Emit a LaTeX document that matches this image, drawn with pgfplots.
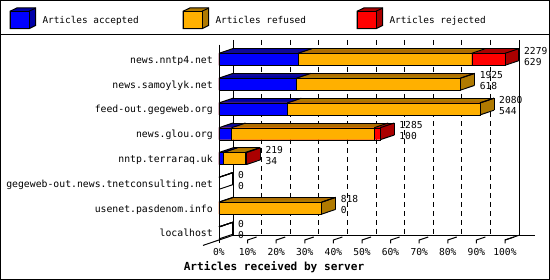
\documentclass[border=0pt]{standalone}
\usepackage{pgfplots}
\pgfplotsset{compat=1.18}
\usepackage{pgfplotstable}
\usepackage{fontspec}
\setmainfont{DejaVu Sans Mono}
\definecolor{cblue}{RGB}{0,0,255}
\definecolor{cblueD}{RGB}{0,0,168}
\definecolor{corange}{RGB}{255,176,0}
\definecolor{corangeD}{RGB}{176,122,0}
\definecolor{cred}{RGB}{255,0,0}
\definecolor{credD}{RGB}{170,0,0}

% counts: c1 = accepted, c2 = accepted+refused, c3 = total (accepted+refused+rejected)
% sideR / sideO: total of rows whose last segment is red / orange
\pgfplotstableread{
y c1 c2 c3 sideR sideO total acc
0 629 2014 2279 2279 0 2279 629
1 618 1925 1925 0 1925 1925 618
2 544 2080 2080 0 2080 2080 544
3 100 1237 1285 1285 0 1285 100
4 34 209 219 219 0 219 34
5 0 0 0 0 0 0 0
6 0 818 818 0 818 818 0
7 0 0 0 0 0 0 0
}\servers

\pgfplotsset{
  facefill/.style={xbar, bar shift=0pt, draw=none, forget plot, restrict x to domain=0.001:1000},
  edge/.style={-, draw=black, line width=1pt, mark=none, forget plot},
}

\begin{document}
\begin{tikzpicture}[line width=1pt, font=\fontsize{9.8}{11}\selectfont]
\useasboundingbox (0,0) rectangle (550pt,280pt);
\draw (0.5pt,0.5pt) rectangle (549.5pt,279.5pt);
\draw (0pt,245.3pt) -- (550pt,245.3pt);

% legend
\foreach \x/\c/\d/\t in {10/cblue/cblueD/Articles accepted, 183/corange/corangeD/Articles refused, 357/cred/credD/Articles rejected}{
  \filldraw[fill=\d, draw=black] (\x pt,251.3pt) -- ++(19pt,0) -- ++(6.7pt,3.3pt) -- ++(0,17.4pt) -- ++(-19pt,0) -- ++(-6.7pt,-3.3pt) -- cycle;
  \filldraw[fill=\c, draw=black] (\x pt,251.3pt) rectangle ++(19pt,17.4pt);
  \draw ({(\x+19)*1pt},268.7pt) -- ++(6.7pt,3.3pt);
  \node[anchor=base west, inner sep=0pt, font=\fontsize{9.4}{11}\selectfont] at ({(\x+32)*1pt},256.7pt) {\t};
}

% back wall grid and floor
\foreach \k in {1,...,9}{
  \draw[dash pattern=on 5pt off 4pt] ({(233+28.6*\k)*1pt},240pt) -- ({(233+28.6*\k)*1pt},44.7pt);
}
\draw (233pt,240pt) -- (233pt,44.7pt);
\draw (519pt,240pt) -- (519pt,44.7pt);
\draw (233pt,44.7pt) -- (535pt,44.7pt);
\draw (203pt,34.6pt) -- (233pt,44.7pt);
\draw (505pt,40pt) -- (519pt,44.7pt);
\draw (219pt,235.3pt) -- (219pt,36.5pt);
\foreach \k in {1,...,10}{
  \draw ({(219+28.6*\k)*1pt},36.5pt) -- ({(219+28.6*\k)*1pt},40pt) -- ({(219+28.6*\k+9)*1pt},43pt);
}

\begin{axis}[
  at={(219pt,40pt)}, anchor=south west,
  scale only axis, width=286pt, height=195.3pt,
  xmin=0, xmax=100, ymin=-0.589, ymax=7.286, y dir=reverse,
  clip=false,
  axis line style={draw=none}, tick style={draw=none},
  xtick={0,10,...,100},
  xticklabels={0\%,10\%,20\%,30\%,40\%,50\%,60\%,70\%,80\%,90\%,100\%},
  xticklabel style={anchor=base, yshift=-15.5pt, inner sep=0pt, font=\fontsize{9.6}{11}\selectfont},
  ytick={0,...,7},
  yticklabels={news.nntp4.net, news.samoylyk.net, feed-out.gegeweb.org, news.glou.org, nntp.terraraq.uk, gegeweb-out.news.tnetconsulting.net, usenet.pasdenom.info, localhost},
  yticklabel style={anchor=base east, xshift=-6pt, yshift=-4pt, inner sep=0pt},
]
% side faces (sweep of the whole box, in colour of last segment)
\pgfplotsinvokeforeach{1,...,10}{
  \addplot[facefill, bar width=12pt, fill=credD, xshift=#1*1.4pt, yshift=#1*0.47pt]
    table[x expr=\thisrow{sideR}/22.79, y=y] {\servers};
  \addplot[facefill, bar width=12pt, fill=corangeD, xshift=#1*1.4pt, yshift=#1*0.47pt]
    table[x expr=\thisrow{sideO}/22.79, y=y] {\servers};
}
% top faces
\pgfplotsinvokeforeach{1,...,10}{
  \addplot[facefill, bar width=0.7pt, fill=credD, xshift=#1*1.4pt, yshift=5.65pt+#1*0.47pt]
    table[x expr=\thisrow{c3}/22.79, y=y] {\servers};
}
\pgfplotsinvokeforeach{1,...,10}{
  \addplot[facefill, bar width=0.7pt, fill=corangeD, xshift=#1*1.4pt, yshift=5.65pt+#1*0.47pt]
    table[x expr=\thisrow{c2}/22.79, y=y] {\servers};
}
\pgfplotsinvokeforeach{1,...,10}{
  \addplot[facefill, bar width=0.7pt, fill=cblueD, xshift=#1*1.4pt, yshift=5.65pt+#1*0.47pt]
    table[x expr=\thisrow{c1}/22.79, y=y] {\servers};
}
% front faces
\addplot[xbar, bar shift=0pt, bar width=12pt, fill=cred, draw=black, forget plot, restrict x to domain=0.001:1000]
  table[x expr=\thisrow{c3}/22.79, y=y] {\servers};
\addplot[xbar, bar shift=0pt, bar width=12pt, fill=corange, draw=black, forget plot, restrict x to domain=0.001:1000]
  table[x expr=\thisrow{c2}/22.79, y=y] {\servers};
\addplot[xbar, bar shift=0pt, bar width=12pt, fill=cblue, draw=black, forget plot, restrict x to domain=0.001:1000]
  table[x expr=\thisrow{c1}/22.79, y=y] {\servers};
% depth edges
\addplot[edge, quiver={u=4.895, v=-0.1895}]
  table[x expr=0, y expr=\thisrow{y}-0.2419] {\servers};
\addplot[edge, quiver={u=4.895, v=-0.1895}]
  table[x expr=\thisrow{c1}/22.79, y expr=\thisrow{y}-0.2419] {\servers};
\addplot[edge, quiver={u=4.895, v=-0.1895}]
  table[x expr=\thisrow{c2}/22.79, y expr=\thisrow{y}-0.2419] {\servers};
\addplot[edge, quiver={u=4.895, v=-0.1895}]
  table[x expr=\thisrow{c3}/22.79, y expr=\thisrow{y}-0.2419] {\servers};
\addplot[edge, quiver={u=4.895, v=-0.1895}]
  table[x expr=\thisrow{c3}/22.79, y expr=\thisrow{y}+0.2419] {\servers};
\addplot[edge, quiver={u=\thisrow{c3}/22.79, v=0}, xshift=14pt, yshift=4.7pt]
  table[x expr=0, y expr=\thisrow{y}-0.2419] {\servers};
\addplot[edge, quiver={u=0, v=0.4839}, xshift=14pt, yshift=4.7pt]
  table[x expr=\thisrow{c3}/22.79, y expr=\thisrow{y}-0.2419] {\servers};
% value labels
\addplot[draw=none, mark=none, forget plot, nodes near coords={\pgfplotspointmeta}, point meta=explicit symbolic,
  every node near coord/.append style={anchor=base west, xshift=19pt, yshift=5.3pt, inner sep=0pt, font=\fontsize{9.6}{11}\selectfont}]
  table[x expr=\thisrow{c3}/22.79, y=y, meta=total] {\servers};
\addplot[draw=none, mark=none, forget plot, nodes near coords={\pgfplotspointmeta}, point meta=explicit symbolic,
  every node near coord/.append style={anchor=base west, xshift=19pt, yshift=-5.8pt, inner sep=0pt, font=\fontsize{9.6}{11}\selectfont}]
  table[x expr=\thisrow{c3}/22.79, y=y, meta=acc] {\servers};
\end{axis}

\node[anchor=base, inner sep=0pt, font=\bfseries\fontsize{11.1}{13}\selectfont] at (274pt,9pt) {Articles received by server};
\end{tikzpicture}
\end{document}
